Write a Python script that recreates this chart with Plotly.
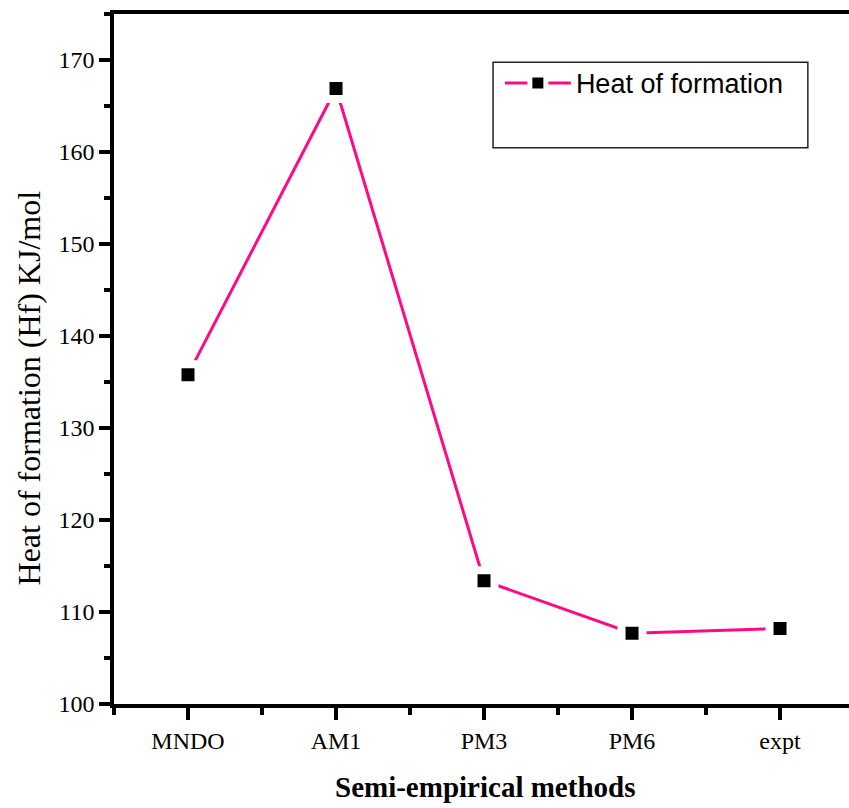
import plotly.graph_objects as go

methods = ["MNDO", "AM1", "PM3", "PM6", "expt"]
heat_of_formation = [135.8, 166.9, 113.4, 107.7, 108.2]
series_name = "Heat of formation"
x_title = "Semi-empirical methods"
y_title = "Heat of formation (Hf) KJ/mol"
y_ticks = [100, 110, 120, 130, 140, 150, 160, 170]

x_idx = list(range(len(methods)))

fig = go.Figure()
fig.add_trace(go.Scatter(
    x=x_idx, y=heat_of_formation, mode="lines+markers", name=series_name,
    line=dict(color="#FF0A84", width=3),
    marker=dict(symbol="square", size=21, color="black",
                line=dict(color="white", width=8)),
))

serif = "Liberation Serif"
fig.update_layout(
    width=849, height=808,
    margin=dict(l=114, r=0, t=14, b=104),
    paper_bgcolor="white", plot_bgcolor="white",
    font=dict(family=serif, color="black", size=24),
    showlegend=True,
    legend=dict(x=0.525, y=0.935, xanchor="left", yanchor="top",
                bgcolor="rgba(0,0,0,0)", borderwidth=0,
                font=dict(family="Liberation Sans", size=27, color="black"),
                itemwidth=66),
    xaxis=dict(
        range=[-0.5, 4.466], tickvals=x_idx, ticktext=methods,
        showline=True, linecolor="black", linewidth=3.5, mirror=True,
        ticks="outside", ticklen=12, tickwidth=3.5, tickcolor="black",
        showgrid=False, zeroline=False,
        tickfont=dict(family=serif, size=24),
        minor=dict(ticks="outside", ticklen=7, tickwidth=3.5, tickcolor="black",
                   tick0=-0.5, dtick=1, showgrid=False),
    ),
    yaxis=dict(
        range=[100, 175], tickvals=y_ticks,
        showline=True, linecolor="black", linewidth=3.5, mirror=False,
        ticks="outside", ticklen=11, tickwidth=3.5, tickcolor="black",
        showgrid=False, zeroline=False,
        tickfont=dict(family=serif, size=24),
        minor=dict(ticks="outside", ticklen=6, tickwidth=3.5, tickcolor="black",
                   tick0=105, dtick=10, showgrid=False),
    ),
    shapes=[dict(type="rect", xref="paper", yref="paper",
                 x0=0.5157, x1=0.944, y0=0.806, y1=0.930,
                 line=dict(color="#222", width=1.5), fillcolor="rgba(0,0,0,0)")],
    annotations=[
        dict(text="<b>" + x_title + "</b>", xref="paper", yref="paper", x=0.505, y=-0.120,
             xanchor="center", yanchor="middle", showarrow=False,
             font=dict(family=serif, size=29, color="black")),
        dict(text=y_title, xref="paper", yref="paper", x=-0.115, y=0.458,
             xanchor="center", yanchor="middle", showarrow=False, textangle=-90,
             font=dict(family=serif, size=32, color="black")),
    ],
)

fig.write_html("out.html")
